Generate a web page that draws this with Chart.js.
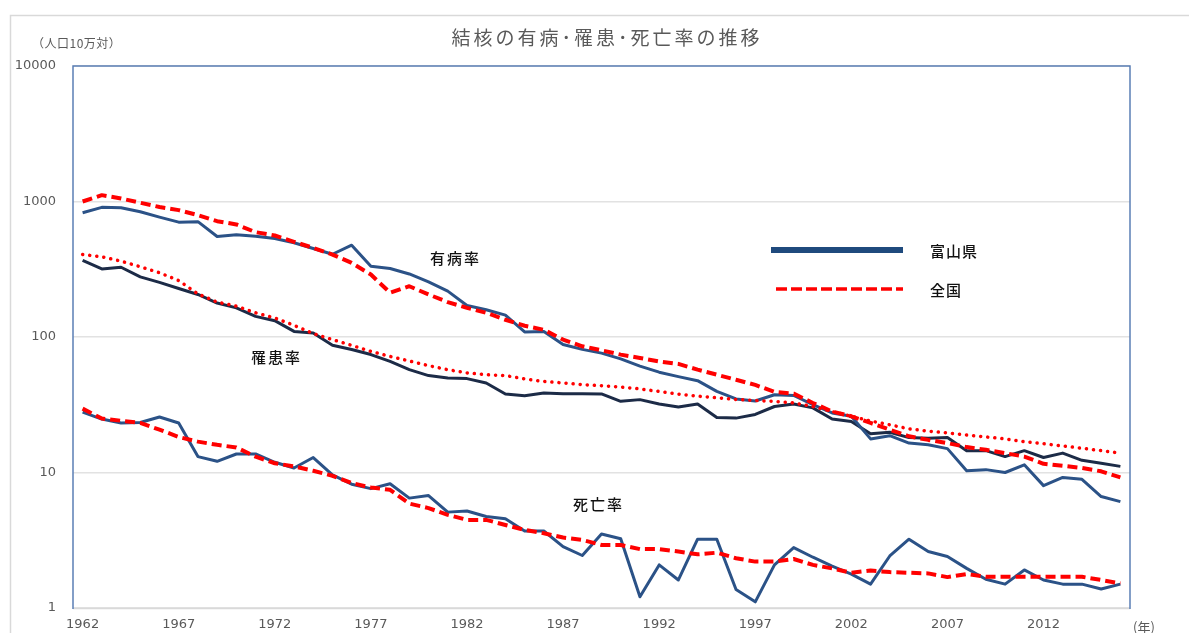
<!DOCTYPE html>
<html lang="ja">
<head>
<meta charset="utf-8">
<title>結核の有病･罹患･死亡率の推移</title>
<script src="https://cdn.jsdelivr.net/npm/chart.js@4/dist/chart.umd.min.js"></script>
<style>
  html, body { margin: 0; padding: 0; background: #ffffff; }
  #wrap { position: relative; width: 1189px; height: 633px; }
  canvas { display: block; }
</style>
</head>
<body>
<div id="wrap"><canvas id="c" width="1189" height="633"></canvas></div>
<script>
// ---- data (per 100,000 population) ----
const years = [];
for (let y = 1962; y <= 2016; y++) years.push(String(y));

const yTicks = [1, 10, 100, 1000, 10000];

const toyamaPrevalence = [826, 905, 900, 840, 767, 704, 710, 552, 569, 555,
  533, 496, 450, 408, 476, 333, 320, 292, 255, 218,
  171, 159, 145, 109, 110, 88, 81, 76, 69, 61,
  55, 51, 47.6, 39.7, 34.9, 33.7, 37.5, 37, 31.7, 27.5,
  26, 17.7, 18.7, 16.5, 16.0, 15, 10.3, 10.5, 10.0, 11.4,
  8.0, 9.2, 8.9, 6.65, 6.1];

const nationalPrevalence = [1000, 1114, 1052, 979, 910, 864, 793, 716, 677, 594,
  561, 504, 455, 406, 352, 289, 212, 237, 206, 181,
  164, 151, 134, 121, 113, 95.7, 85.4, 79.7, 74.1, 70,
  66, 63.3, 57.4, 52.7, 48.4, 44.3, 39.3, 38.2, 32.6, 28.2,
  26, 23.2, 20.7, 18.5, 17.4, 16.5, 15.4, 14.7, 13.9, 13.1,
  11.6, 11.2, 10.8, 10.2, 9.2];

const toyamaIncidence = [367, 318, 327, 278, 253, 228, 206, 178, 164, 142,
  132, 110, 107, 86.9, 80.8, 74.2, 66, 57.5, 51.9, 49.9,
  49.3, 45.8, 38, 36.9, 38.6, 38.2, 38.2, 38, 33.5, 34.5,
  32, 30.4, 32, 25.5, 25.2, 26.8, 30.7, 32, 30, 24.8,
  23.8, 19.3, 19.8, 18.1, 17.9, 18.1, 14.5, 14.5, 13.1, 14.5,
  12.9, 13.9, 12.3, 11.7, 11.1];

const nationalIncidence = [406, 391, 363, 330, 298, 261, 208, 181, 169, 151,
  138, 122, 106, 95.7, 86.8, 78.3, 71.9, 66.5, 61.5, 57.4,
  54.3, 52.7, 51.9, 49, 47, 45.8, 44.5, 43.7, 42.7, 41.4,
  39.6, 37.9, 36.6, 35.6, 34.6, 34, 33.5, 32.6, 30.7, 28.2,
  26, 24, 22.5, 21, 20.2, 19.6, 18.9, 18.3, 17.7, 16.9,
  16.3, 15.7, 15.1, 14.5, 13.9];

const toyamaMortality = [27.9, 24.8, 23.2, 23.4, 25.7, 23.2, 13.1, 12.1, 13.7, 13.7,
  11.9, 10.8, 12.9, 9.6, 8.2, 7.6, 8.25, 6.47, 6.76, 5.1,
  5.2, 4.73, 4.55, 3.7, 3.7, 2.84, 2.44, 3.52, 3.24, 1.21,
  2.08, 1.61, 3.22, 3.22, 1.37, 1.11, 2.08, 2.79, 2.37, 2.04,
  1.78, 1.5, 2.42, 3.22, 2.61, 2.4, 1.96, 1.63, 1.5, 1.91,
  1.61, 1.5, 1.5, 1.38, 1.5];

const nationalMortality = [29.6, 25, 24.1, 23.2, 20.7, 18.3, 16.9, 16.0, 15.3, 13.1,
  11.7, 11.1, 10.3, 9.46, 8.36, 7.75, 7.45, 5.9, 5.46, 4.87,
  4.47, 4.47, 4.1, 3.77, 3.56, 3.31, 3.18, 2.92, 2.92, 2.72,
  2.72, 2.61, 2.49, 2.56, 2.33, 2.2, 2.2, 2.3, 2.08, 1.96,
  1.82, 1.89, 1.84, 1.82, 1.8, 1.69, 1.78, 1.7, 1.7, 1.7,
  1.7, 1.7, 1.7, 1.61, 1.52];

const titleText = '結核の有病･罹患･死亡率の推移';
const unitText = '（人口10万対）';
const yearUnitText = '(年)';
const legendLabels = ['富山県', '全国'];
const seriesLabels = ['有病率', '罹患率', '死亡率'];

// ---- styles ----
const BLUE = '#2b5287';
const NAVY = '#1c2b47';
const RED = '#ff0000';
const GRAY_TEXT = '#595959';
const CJK = '"Noto Sans CJK JP", "Noto Sans", sans-serif';

function ds(label, data, color, width, dash, cap) {
  return {
    label, data,
    borderColor: color, backgroundColor: color,
    borderWidth: width, borderDash: dash || [],
    borderCapStyle: cap || 'butt', borderJoinStyle: 'round',
    pointRadius: 0, pointHoverRadius: 0, tension: 0, fill: false
  };
}

const decorPlugin = {
  id: 'decor',
  beforeDraw(chart) {
    const ctx = chart.ctx;
    ctx.save();
    // outer frame
    ctx.strokeStyle = '#d9d9d9';
    ctx.lineWidth = 1.5;
    ctx.beginPath();
    ctx.moveTo(10.5, 640);
    ctx.lineTo(10.5, 15.5);
    ctx.lineTo(1200, 15.5);
    ctx.stroke();
    // title
    ctx.fillStyle = GRAY_TEXT;
    ctx.font = '19px ' + CJK;
    ctx.textAlign = 'center';
    ctx.textBaseline = 'middle';
    ctx.letterSpacing = '3px';
    ctx.fillText(titleText, 607, 38);
    // unit
    ctx.font = '12px ' + CJK;
    ctx.letterSpacing = '0.5px';
    ctx.textAlign = 'left';
    ctx.fillText(unitText, 32, 43);
    ctx.letterSpacing = '0px';
    ctx.font = '13px ' + CJK;
    ctx.fillText(yearUnitText, 1133, 627);
    ctx.restore();
  },
  afterDraw(chart) {
    const ctx = chart.ctx;
    const a = chart.chartArea;
    ctx.save();
    // bottom axis
    ctx.strokeStyle = '#d9d9d9';
    ctx.lineWidth = 1.5;
    ctx.beginPath();
    ctx.moveTo(a.left, a.bottom + 0.5);
    ctx.lineTo(a.right, a.bottom + 0.5);
    ctx.stroke();
    // plot border (left, top, right)
    ctx.strokeStyle = '#5b7fb5';
    ctx.lineWidth = 1.5;
    ctx.beginPath();
    ctx.moveTo(a.left, a.bottom + 1);
    ctx.lineTo(a.left, a.top);
    ctx.lineTo(a.right, a.top);
    ctx.lineTo(a.right, a.bottom + 1);
    ctx.stroke();

    // series annotations
    ctx.fillStyle = '#111111';
    ctx.font = '500 15px ' + CJK;
    ctx.letterSpacing = '2px';
    ctx.textAlign = 'left';
    ctx.textBaseline = 'middle';
    ctx.fillText(seriesLabels[0], 430, 258);
    ctx.fillText(seriesLabels[1], 251, 357);
    ctx.fillText(seriesLabels[2], 573, 504);

    // legend
    ctx.letterSpacing = '1px';
    ctx.lineCap = 'butt';
    ctx.strokeStyle = '#1f4a7d';
    ctx.lineWidth = 6;
    ctx.setLineDash([]);
    ctx.beginPath();
    ctx.moveTo(771, 250);
    ctx.lineTo(903, 250);
    ctx.stroke();
    ctx.strokeStyle = RED;
    ctx.lineWidth = 3.5;
    ctx.setLineDash([11, 4]);
    ctx.beginPath();
    ctx.moveTo(776, 289);
    ctx.lineTo(903, 289);
    ctx.stroke();
    ctx.setLineDash([]);
    ctx.fillStyle = '#111111';
    ctx.font = '500 15px ' + CJK;
    ctx.fillText(legendLabels[0], 930, 251);
    ctx.fillText(legendLabels[1], 930, 290);
    ctx.restore();
  }
};

new Chart(document.getElementById('c'), {
  type: 'line',
  data: {
    labels: years,
    datasets: [
      ds('全国 有病率', nationalPrevalence, RED, 4, [10, 5]),
      ds('全国 罹患率', nationalIncidence, RED, 3.5, [0.1, 7], 'round'),
      ds('全国 死亡率', nationalMortality, RED, 4, [10, 5]),
      ds('富山県 有病率', toyamaPrevalence, BLUE, 3),
      ds('富山県 罹患率', toyamaIncidence, NAVY, 3),
      ds('富山県 死亡率', toyamaMortality, BLUE, 3)
    ]
  },
  options: {
    responsive: false,
    animation: false,
    devicePixelRatio: 1,
    layout: { padding: { top: 66, right: 59, bottom: 0, left: 0 } },
    plugins: {
      legend: { display: false },
      title: { display: false },
      tooltip: { enabled: false }
    },
    events: [],
    scales: {
      x: {
        type: 'category',
        offset: true,
        grid: { display: false, drawTicks: false },
        border: { display: false },
        afterFit(scale) { scale.height = 25; },
        ticks: {
          autoSkip: false,
          maxRotation: 0,
          minRotation: 0,
          padding: 9,
          color: GRAY_TEXT,
          font: { family: '"DejaVu Sans", sans-serif', size: 13 },
          callback(val, idx) { return idx % 5 === 0 ? years[idx] : ''; }
        }
      },
      y: {
        type: 'logarithmic',
        min: 1,
        max: 10000,
        afterBuildTicks(scale) { scale.ticks = yTicks.map(v => ({ value: v })); },
        afterFit(scale) { scale.width = 73; },
        grid: { color: '#e2e2e2', lineWidth: 1.5, drawTicks: false },
        border: { display: false },
        ticks: {
          padding: 17,
          color: GRAY_TEXT,
          font: { family: '"DejaVu Sans", sans-serif', size: 13 },
          callback(v) { return String(v); }
        }
      }
    }
  },
  plugins: [decorPlugin]
});
</script>
</body>
</html>
